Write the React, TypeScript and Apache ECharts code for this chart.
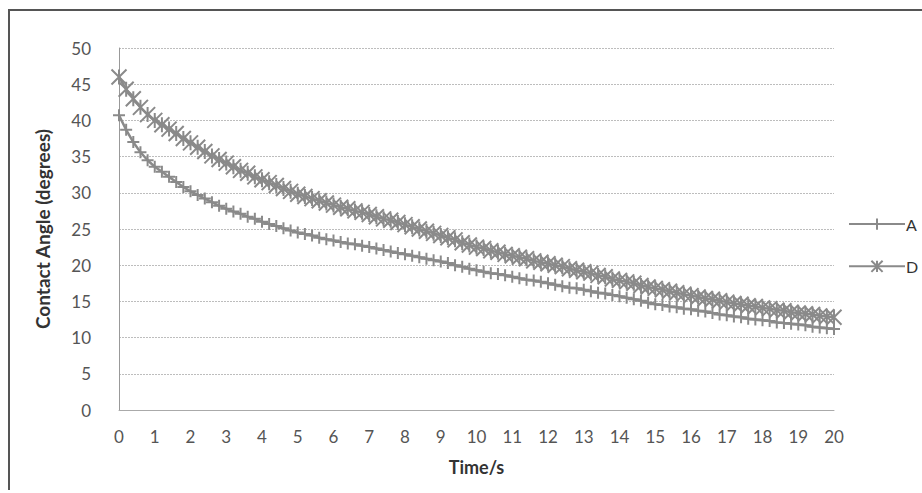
import React, { useEffect, useRef } from "react";
import * as echarts from "echarts";

const timeS = [
  0, 0.2, 0.4, 0.6, 0.8, 1, 1.2, 1.4, 1.6, 1.8, 2, 2.2, 2.4, 2.6, 2.8, 3, 3.2, 3.4, 3.6, 3.8,
  4, 4.2, 4.4, 4.6, 4.8, 5, 5.2, 5.4, 5.6, 5.8, 6, 6.2, 6.4, 6.6, 6.8, 7, 7.2, 7.4, 7.6, 7.8,
  8, 8.2, 8.4, 8.6, 8.8, 9, 9.2, 9.4, 9.6, 9.8, 10, 10.2, 10.4, 10.6, 10.8, 11, 11.2, 11.4, 11.6, 11.8,
  12, 12.2, 12.4, 12.6, 12.8, 13, 13.2, 13.4, 13.6, 13.8, 14, 14.2, 14.4, 14.6, 14.8, 15, 15.2, 15.4, 15.6, 15.8,
  16, 16.2, 16.4, 16.6, 16.8, 17, 17.2, 17.4, 17.6, 17.8, 18, 18.2, 18.4, 18.6, 18.8, 19, 19.2, 19.4, 19.6, 19.8, 20,
];

const seriesA = [
  40.7, 38.7, 37.0, 35.6, 34.5, 33.6, 32.9, 32.2, 31.5, 30.8, 30.2, 29.7, 29.2, 28.7, 28.2, 27.8, 27.4, 27.1, 26.7, 26.4,
  26.0, 25.7, 25.4, 25.1, 24.8, 24.5, 24.3, 24.1, 23.8, 23.6, 23.4, 23.2, 23.0, 22.9, 22.7, 22.5, 22.3, 22.1, 21.9, 21.7,
  21.5, 21.3, 21.1, 20.9, 20.7, 20.5, 20.3, 20.0, 19.8, 19.5, 19.3, 19.1, 18.9, 18.8, 18.6, 18.4, 18.2, 18.0, 17.9, 17.7,
  17.5, 17.3, 17.1, 16.9, 16.8, 16.6, 16.4, 16.2, 16.1, 15.9, 15.7, 15.5, 15.3, 15.1, 14.8, 14.6, 14.5, 14.3, 14.2, 14.0,
  13.9, 13.7, 13.6, 13.4, 13.2, 13.1, 12.9, 12.8, 12.6, 12.5, 12.4, 12.3, 12.1, 12.0, 11.9, 11.8, 11.7, 11.5, 11.4, 11.3, 11.2,
];

const seriesD = [
  46.0, 44.3, 43.0, 41.8, 40.8, 40.0, 39.4, 38.8, 38.2, 37.5, 36.9, 36.3, 35.7, 35.1, 34.6, 34.1, 33.6, 33.1, 32.7, 32.2,
  31.8, 31.4, 31.0, 30.6, 30.2, 29.8, 29.5, 29.2, 28.9, 28.6, 28.3, 28.0, 27.8, 27.5, 27.3, 27.0, 26.7, 26.4, 26.2, 25.9,
  25.6, 25.3, 25.0, 24.7, 24.4, 24.1, 23.8, 23.5, 23.1, 22.8, 22.5, 22.3, 22.0, 21.8, 21.5, 21.3, 21.1, 20.9, 20.6, 20.4,
  20.2, 20.0, 19.8, 19.5, 19.3, 19.1, 18.9, 18.6, 18.4, 18.1, 17.9, 17.7, 17.5, 17.2, 17.0, 16.8, 16.6, 16.4, 16.2, 16.0,
  15.8, 15.6, 15.4, 15.3, 15.1, 14.9, 14.7, 14.6, 14.4, 14.3, 14.1, 14.0, 13.8, 13.7, 13.5, 13.4, 13.3, 13.2, 13.0, 12.9, 12.8,
];

const seriesNames = ["A", "D"];
const xTitle = "Time/s";
const yTitle = "Contact Angle (degrees)";

const PLUS = "path://M5,0 L5,10 M0,5 L10,5";
const STAR = "path://M0,0 L10,10 M10,0 L0,10 M5,0 L5,10";

export default function App() {
  const ref = useRef<HTMLDivElement>(null);
  useEffect(() => {
    if (!ref.current) return;
    const chart = echarts.init(ref.current, null, { renderer: "svg" });
    const gray = "#8a8a8a";
    const font = "Lato, 'Open Sans', sans-serif";
    chart.setOption({
      animation: false,
      backgroundColor: "#ffffff",
      grid: { left: 119, right: 88, top: 48, bottom: 83 },
      legend: {
        orient: "vertical",
        left: 843,
        top: 211,
        itemGap: 26,
        itemWidth: 56,
        itemHeight: 14,
        textStyle: { fontFamily: font, fontSize: 16, color: "#333", padding: [0, 0, 0, -4] },
        data: seriesNames,
      },
      xAxis: {
        type: "value",
        min: 0,
        max: 20,
        interval: 1,
        name: xTitle,
        nameLocation: "middle",
        nameGap: 48,
        nameTextStyle: { fontFamily: font, fontSize: 18, fontWeight: "bold", color: "#333" },
        axisLine: { show: true, lineStyle: { color: "#aaa" } },
        axisTick: { show: false },
        axisLabel: { fontFamily: font, fontSize: 17, color: "#555", margin: 18 },
        splitLine: { show: false },
      },
      yAxis: {
        type: "value",
        min: 0,
        max: 50,
        interval: 5,
        name: yTitle,
        nameLocation: "middle",
        nameGap: 67,
        nameTextStyle: { fontFamily: font, fontSize: 19, fontWeight: "bold", color: "#333" },
        axisLine: { show: true, lineStyle: { color: "#999" } },
        axisTick: { show: false },
        axisLabel: { fontFamily: font, fontSize: 17, color: "#555", margin: 28 },
        splitLine: { show: true, lineStyle: { color: "#bdbdbd", type: [2, 1], width: 1 } },
      },
      series: [
        {
          name: seriesNames[0],
          type: "line",
          data: timeS.map((t, i) => [t, seriesA[i]]),
          symbol: PLUS,
          symbolSize: 12,
          showAllSymbol: true,
          lineStyle: { color: gray, width: 2.5 },
          itemStyle: { color: "none", borderColor: gray, borderWidth: 2 },
        },
        {
          name: seriesNames[1],
          type: "line",
          data: timeS.map((t, i) => [t, seriesD[i]]),
          symbol: STAR,
          symbolSize: 15,
          showAllSymbol: true,
          lineStyle: { color: gray, width: 2.5 },
          itemStyle: { color: "none", borderColor: gray, borderWidth: 2 },
        },
      ],
      graphic: [
        { type: "line", shape: { x1: 8, y1: 10, x2: 922, y2: 10 }, style: { stroke: "#555", lineWidth: 2 } },
        { type: "line", shape: { x1: 9, y1: 10, x2: 9, y2: 490 }, style: { stroke: "#555", lineWidth: 2 } },
      ],
    });
    return () => chart.dispose();
  }, []);
  return (
    <div
      ref={ref}
      style={{ position: "absolute", left: 0, top: 0, width: 922, height: 493 }}
    />
  );
}
